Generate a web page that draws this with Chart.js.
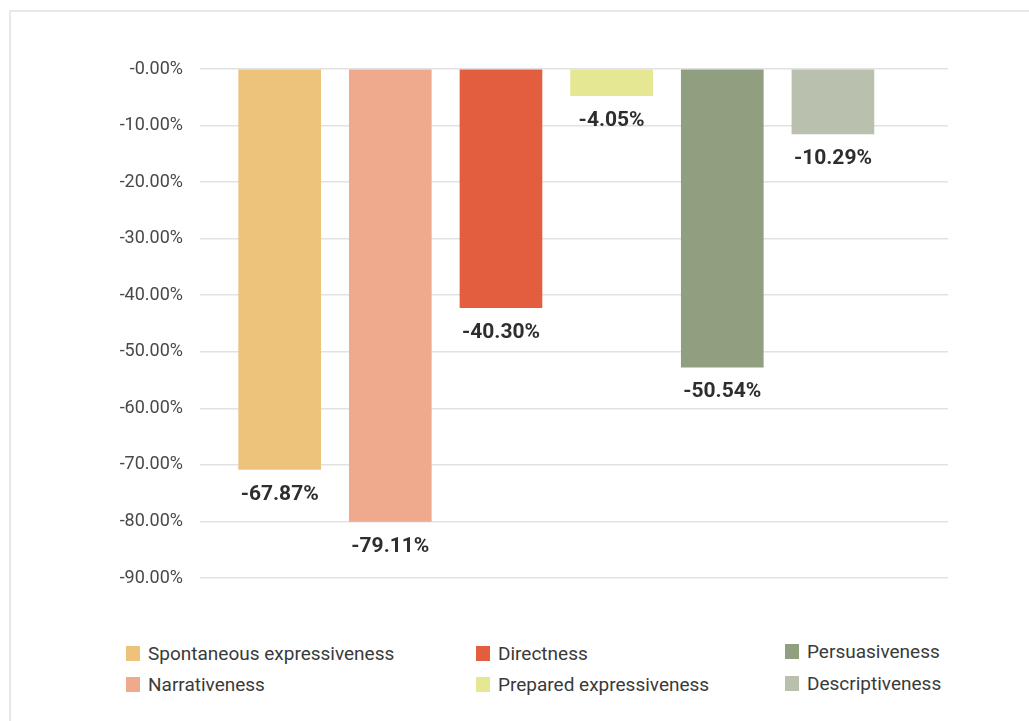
<!DOCTYPE html>
<html>
<head>
<meta charset="utf-8">
<script src="https://cdn.jsdelivr.net/npm/chart.js@4/dist/chart.umd.min.js"></script>
<style>
  html, body { margin: 0; padding: 0; background: #fff; }
  body { width: 1029px; height: 721px; position: relative; overflow: hidden; font-family: Roboto, "Noto Sans", sans-serif; }
  #frame { position: absolute; left: 9px; top: 10px; right: -5px; bottom: -5px; border-top: 2px solid #e8e8e6; border-left: 2px solid #e8e8e6; }
  #wrap { position: absolute; left: 0; top: 0; width: 1029px; height: 620px; }
  .lg { position: absolute; display: flex; align-items: center; font-size: 19px; color: #3a3a3a; white-space: nowrap; }
  .lg i { display: inline-block; width: 14px; height: 15px; margin-right: 8px; }
</style>
</head>
<body>
<div id="frame"></div>
<div id="wrap"><canvas id="c"></canvas></div>
<div id="legend"></div>
<script>
// 범주 / 값 (막대 길이는 그림에서 읽은 값, 라벨은 그림에 적힌 글자 그대로)
const CATEGORIES = ['Spontaneous expressiveness', 'Narrativeness', 'Directness',
                    'Prepared expressiveness', 'Persuasiveness', 'Descriptiveness'];
const BAR_VALUES = [-70.8, -80.0, -42.2, -4.7, -52.7, -11.5];
const BAR_LABELS = ['-67.87%', '-79.11%', '-40.30%', '-4.05%', '-50.54%', '-10.29%'];
const COLORS     = ['#edc27b', '#efaa8d', '#e25e3e', '#e5e793', '#8f9f80', '#b9c0ad'];
const Y_TICKS    = [0, -10, -20, -30, -40, -50, -60, -70, -80, -90];

// 범례: 3열 x 2행 (열 우선)
const LEGEND_POS = [
  { x: 126, y: 654 }, { x: 126, y: 685 },
  { x: 476, y: 654 }, { x: 476, y: 685 },
  { x: 785, y: 652 }, { x: 785, y: 684 },
];
document.getElementById('legend').innerHTML = CATEGORIES.map((c, i) =>
  `<div class="lg" style="left:${LEGEND_POS[i].x}px;top:${LEGEND_POS[i].y - 12}px"><i style="background:${COLORS[i]}"></i>${c}</div>`
).join('');

// 막대 아래 값 라벨
const barLabels = {
  id: 'barLabels',
  afterDatasetsDraw(chart) {
    const ctx = chart.ctx;
    const meta = chart.getDatasetMeta(0);
    ctx.save();
    ctx.font = 'bold 21px Roboto, "Noto Sans", sans-serif';
    ctx.fillStyle = '#2e2e2e';
    ctx.textAlign = 'center';
    ctx.textBaseline = 'middle';
    meta.data.forEach((bar, i) => {
      ctx.fillText(BAR_LABELS[i], bar.x, bar.y + 25);
    });
    ctx.restore();
  }
};

new Chart(document.getElementById('c'), {
  type: 'bar',
  data: {
    datasets: [{
      data: BAR_VALUES.map((v, i) => ({ x: i, y: v })),
      backgroundColor: COLORS,
      barThickness: 82,
      borderWidth: 0,
    }]
  },
  options: {
    responsive: true,
    maintainAspectRatio: false,
    animation: false,
    layout: { padding: { top: 69, right: 81, bottom: 42, left: 0 } },
    plugins: { legend: { display: false }, tooltip: { enabled: false } },
    scales: {
      x: {
        type: 'linear',
        min: -0.72, max: 6.04,
        offset: false,
        display: false,
      },
      y: {
        min: -90, max: 0,
        afterBuildTicks: s => { s.ticks = Y_TICKS.map(v => ({ value: v })); },
        afterFit: s => { s.width = 200; },
        border: { display: false },
        grid: { color: '#e2e2e2', lineWidth: 1.5, tickLength: 0, drawTicks: false },
        ticks: {
          padding: 17,
          color: '#484848',
          font: { size: 18, family: 'Roboto, "Noto Sans", sans-serif' },
          callback: v => '-' + Math.abs(v).toFixed(2) + '%',
        },
      },
    },
  },
  plugins: [barLabels],
});
</script>
</body>
</html>
